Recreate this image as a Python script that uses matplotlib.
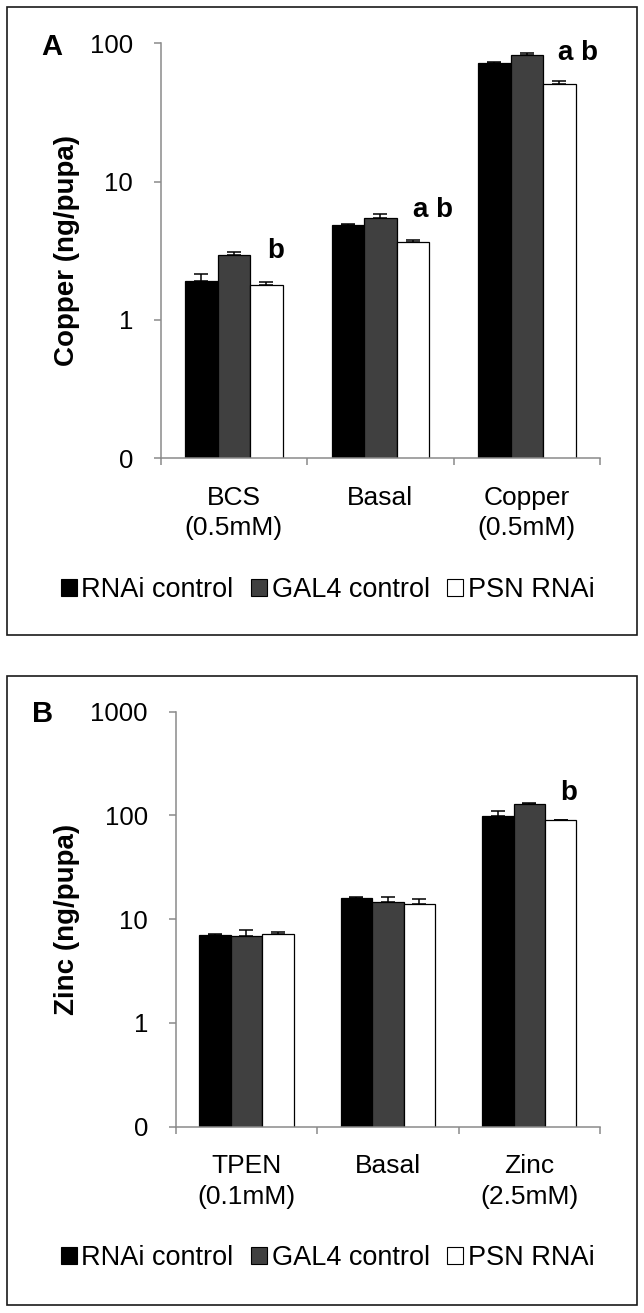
import matplotlib
matplotlib.use("Agg")
import matplotlib.pyplot as plt
from matplotlib.patches import Patch, Rectangle
import numpy as np

plt.rcParams['font.family'] = ['Liberation Sans', 'DejaVu Sans']

# ---------------- data ----------------
series = ["RNAi control", "GAL4 control", "PSN RNAi"]
colors = ["#000000", "#404040", "#ffffff"]

cu_categories = ["BCS\n(0.5mM)", "Basal", "Copper\n(0.5mM)"]
cu_rnai = [1.92, 4.81, 72.1]
cu_rnai_err = [0.21, 0.16, 0.6]
cu_gal4 = [2.93, 5.43, 82.4]
cu_gal4_err = [0.17, 0.37, 2.5]
cu_psn = [1.78, 3.68, 50.8]
cu_psn_err = [0.10, 0.11, 2.6]
cu_letters = ["b", "a b", "a b"]
cu_letter_y = [2.79, 5.58, 75.9]

zn_categories = ["TPEN\n(0.1mM)", "Basal", "Zinc\n(2.5mM)"]
zn_rnai = [7.06, 16.07, 98.9]
zn_rnai_err = [0.12, 0.15, 11.6]
zn_gal4 = [6.95, 14.5, 130.0]
zn_gal4_err = [0.88, 1.7, 1.5]
zn_psn = [7.22, 14.1, 89.8]
zn_psn_err = [0.33, 1.5, 0.6]
zn_letters = ["", "", "b"]
zn_letter_y = [None, None, 140.0]

cu_ticks = [0.1, 1, 10, 100]
cu_ticklabels = ["0", "1", "10", "100"]
zn_ticks = [0.1, 1, 10, 100, 1000]
zn_ticklabels = ["0", "1", "10", "100", "1000"]

# ---------------- layout ----------------
W, H = 644, 1313
fig = plt.figure(figsize=(W / 100, H / 100), dpi=100)

def rect(x0, x1, ytop, ybot):
    return [x0 / W, 1 - ybot / H, (x1 - x0) / W, (ybot - ytop) / H]

FS_TICK = 18.5
FS_CAT = 19
FS_LEG = 19.5
FS_LAB = 20
AXC = "#8a8a8a"
BW = 0.222


def panel(ax, cats, vals, errs, ylim, ticks, ticklabels, ylabel, letters, letter_y, letter_dx):
    x = np.arange(len(cats))
    offsets = [-BW, 0, BW]
    for v, e, c, off, name in zip(vals, errs, colors, offsets, series):
        ax.bar(x + off, v, width=BW, color=c, edgecolor="black", linewidth=0.9,
               label=name, zorder=2)
        ax.errorbar(x + off, v, yerr=[np.zeros(len(v)), e], fmt="none",
                    ecolor="black", elinewidth=1.1, capsize=4.8, capthick=1.1, zorder=3)
    ax.set_yscale("log")
    ax.set_ylim(*ylim)
    ax.set_xlim(-0.5, len(cats) - 0.5)
    ax.set_yticks(ticks)
    ax.set_yticklabels(ticklabels)
    ax.yaxis.set_minor_locator(matplotlib.ticker.NullLocator())
    ax.set_xticks(x)
    ax.set_xticklabels(cats, linespacing=1.35)
    ax.set_xticks(np.arange(len(cats) + 1) - 0.5, minor=True)
    ax.tick_params(axis="x", which="major", length=0, pad=20, labelsize=FS_CAT)
    ax.tick_params(axis="x", which="minor", length=5, width=1.1, color=AXC, direction="out")
    ax.tick_params(axis="y", which="major", length=5, width=1.1, color=AXC,
                   direction="out", pad=15, labelsize=FS_TICK)
    for s in ["top", "right"]:
        ax.spines[s].set_visible(False)
    for s in ["left", "bottom"]:
        ax.spines[s].set_color(AXC)
        ax.spines[s].set_linewidth(1.1)
    for i, (t, yv) in enumerate(zip(letters, letter_y)):
        if t:
            ax.text(i + BW + letter_dx[i], yv, t, ha="center", va="baseline",
                    fontsize=FS_LAB, fontweight="bold", zorder=4)
    ax.set_ylabel(ylabel, fontsize=FS_LAB, fontweight="bold")


# Panel A
axA = fig.add_axes(rect(160.7, 600, 43.3, 458))
panel(axA, cu_categories, [cu_rnai, cu_gal4, cu_psn], [cu_rnai_err, cu_gal4_err, cu_psn_err],
      (0.1, 100), cu_ticks, cu_ticklabels, "Copper (ng/pupa)", cu_letters, cu_letter_y,
      [0.06, 0.135, 0.13])
axA.yaxis.set_label_coords(80 / W, 1 - 250.6 / H, transform=fig.transFigure)

# Panel B
axB = fig.add_axes(rect(175.7, 600, 711.7, 1126.7))
panel(axB, zn_categories, [zn_rnai, zn_gal4, zn_psn], [zn_rnai_err, zn_gal4_err, zn_psn_err],
      (0.1, 1000), zn_ticks, zn_ticklabels, "Zinc (ng/pupa)", zn_letters, zn_letter_y,
      [0, 0, 0.06])
axB.yaxis.set_label_coords(80 / W, 1 - 919.2 / H, transform=fig.transFigure)

# panel letters
fig.text(52 / W, 1 - 46.7 / H, "A", ha="center", va="center", fontsize=21, fontweight="bold")
fig.text(43 / W, 1 - 714 / H, "B", ha="center", va="center", fontsize=21, fontweight="bold")

# legends
handles = [Patch(facecolor=c, edgecolor="black", linewidth=0.8) for c in colors]
for yc in (590, 1258):
    fig.legend(handles, series, loc="center", bbox_to_anchor=(327.5 / W, 1 - yc / H),
               ncol=3, frameon=False, fontsize=FS_LEG, handlelength=0.59, handleheight=0.55,
               handletextpad=0.18, columnspacing=0.63, borderpad=0, borderaxespad=0)

# panel frames
for (yt, yb) in ((7, 635), (676, 1305)):
    fig.patches.append(Rectangle((7 / W, 1 - yb / H), 630 / W, (yb - yt) / H,
                                 transform=fig.transFigure, fill=False,
                                 edgecolor="#1a1a1a", linewidth=1.2))

fig.savefig("out.png", dpi=100)
